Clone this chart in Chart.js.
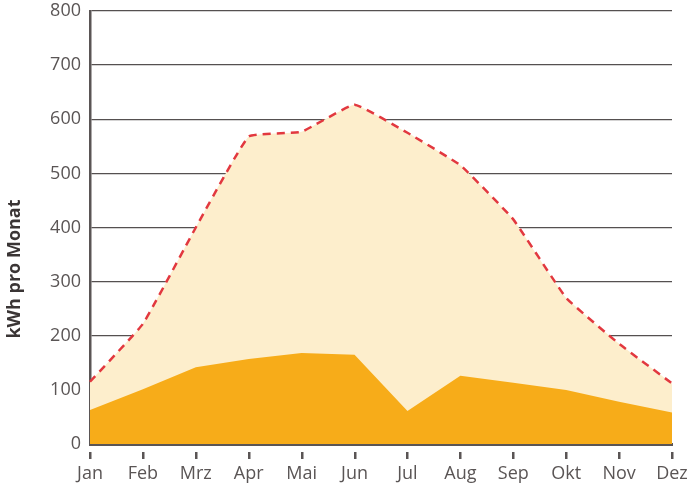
<!DOCTYPE html>
<html>
<head>
<meta charset="utf-8">
<script src="https://cdn.jsdelivr.net/npm/chart.js@4"></script>
<style>
  html, body { margin: 0; padding: 0; background: #fff; }
  #wrap { width: 697px; height: 483px; }
</style>
</head>
<body>
<div id="wrap"><canvas id="myChart" width="697" height="483"></canvas></div>
<script>
// Data
const months = ['Jan', 'Feb', 'Mrz', 'Apr', 'Mai', 'Jun', 'Jul', 'Aug', 'Sep', 'Okt', 'Nov', 'Dez'];
const potential = [115, 222, 400, 568, 577, 627, 575, 515, 415, 270, 185, 112];
const actual = [63, 101, 142, 157, 168, 165, 61, 126, 113, 100, 78, 58];
const yTicks = [0, 100, 200, 300, 400, 500, 600, 700, 800];
const yTitle = 'kWh pro Monat';

const ctx = document.getElementById('myChart').getContext('2d');
const font = "'Open Sans', 'Noto Sans', sans-serif";

// small tick marks below the x axis, with a gap, plus the rotated axis title
const extras = {
    id: 'extras',
    afterDraw(chart) {
        const c = chart.ctx;
        const pts = chart.getDatasetMeta(0).data;
        const base = chart.scales.y.getPixelForValue(0);
        c.save();
        c.fillStyle = '#5a5555';
        pts.forEach(p => {
            c.fillRect(Math.round(p.x) - 1, Math.round(base) + 8, 2.5, 7);
        });
        c.translate(15, 269);
        c.rotate(-Math.PI / 2);
        c.fillStyle = '#3a3535';
        c.font = "bold 18px " + font;
        c.textAlign = 'center';
        c.textBaseline = 'middle';
        c.fillText(yTitle, 0, 0);
        c.restore();
    }
};

const data = {
    labels: months,
    datasets: [{
        label: 'Ertrag',
        data: actual,
        backgroundColor: '#F7AC19',
        borderWidth: 0,
        pointRadius: 0,
        fill: 'origin',
        tension: 0,
        order: 1
    },
    {
        label: 'Bedarf',
        data: potential,
        backgroundColor: '#FDEECC',
        borderColor: '#E2383F',
        borderWidth: 2.5,
        borderDash: [8, 6],
        pointRadius: 0,
        fill: 'origin',
        tension: 0.1,
        order: 2
    }]
};

const config = {
    type: 'line',
    data,
    plugins: [extras],
    options: {
        responsive: false,
        animation: false,
        layout: { padding: 0 },
        plugins: { legend: { display: false }, tooltip: { enabled: false } },
        scales: {
            x: {
                z: 1,
                offset: false,
                grid: { drawOnChartArea: false, drawTicks: false },
                border: { color: '#5a5555', width: 3 },
                ticks: {
                    color: '#5a5555',
                    font: { family: font, size: 18 },
                    padding: 19,
                    maxRotation: 0,
                    autoSkip: false
                },
                afterFit: s => {
                    s.height = 39;
                    s.paddingLeft = 0;
                    s.paddingRight = 25;
                }
            },
            y: {
                z: 1,
                min: 0,
                max: 800,
                afterBuildTicks: s => { s.ticks = yTicks.map(v => ({ value: v })); },
                grid: {
                    color: '#555050',
                    lineWidth: 1.3,
                    drawTicks: false
                },
                border: { color: '#5a5555', width: 2.5 },
                ticks: {
                    color: '#5a5555',
                    font: { family: font, size: 18 },
                    padding: 9
                },
                afterFit: s => {
                    s.width = 90;
                    s.paddingTop = 11;
                    s.paddingBottom = 0;
                }
            }
        }
    }
};

let myChart = new Chart(ctx, config);
</script>
</body>
</html>
